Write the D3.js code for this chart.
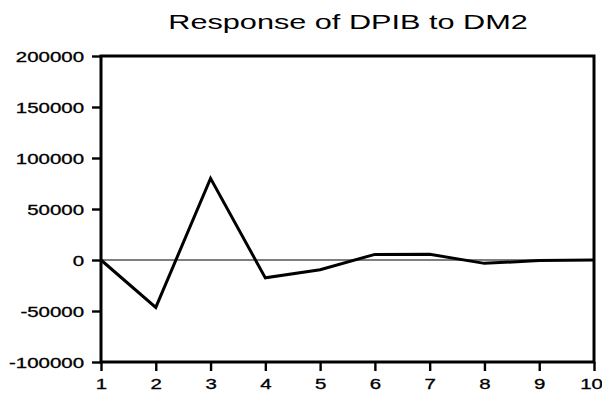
<!DOCTYPE html>
<html>
<head>
<meta charset="utf-8">
<script src="https://cdn.jsdelivr.net/npm/d3@7"></script>
<style>
  body { margin: 0; background: #fff; }
  svg { display: block; }
  text { font-family: "Liberation Sans", Arial, sans-serif; fill: #000; }
</style>
</head>
<body>
<svg width="602" height="394"></svg>
<script>
var svg = d3.select("svg");

// data
var periods = [1, 2, 3, 4, 5, 6, 7, 8, 9, 10];
var response = [0, -46500, 80000, -17500, -9500, 5500, 5600, -3300, -500, 0];
var yTicks = [-100000, -50000, 0, 50000, 100000, 150000, 200000];
var title = "Response of DPIB to DM2";

// the original picture is stretched sideways, so text gets squeezed the same way
var stretch = 1.46;

var x = d3.scaleLinear().domain([1, 10]).range([101, 594]);
var y = d3.scaleLinear().domain([-100000, 200000]).range([362, 56]);

// plain hyphen for negatives, like the original
function fmt(d) { return String(d); }

// title
svg.append("text")
    .attr("transform", "translate(348,29) scale(" + stretch + ",1)")
    .attr("text-anchor", "middle")
    .style("font-size", "21px")
    .text(title);

// zero line
svg.append("line")
    .attr("x1", x(1)).attr("x2", x(10))
    .attr("y1", y(0)).attr("y2", y(0))
    .attr("stroke", "#000")
    .attr("stroke-width", 1.2);

// response line
var line = d3.line()
    .x(function(d, i) { return x(periods[i]); })
    .y(function(d) { return y(d); });

svg.append("path")
    .datum(response)
    .attr("d", line)
    .attr("fill", "none")
    .attr("stroke", "#000")
    .attr("stroke-width", 3)
    .attr("stroke-linejoin", "miter");

// axes
var yAxis = svg.append("g")
    .attr("transform", "translate(" + x(1) + ",0)")
    .call(d3.axisLeft(y).tickValues(yTicks).tickFormat(fmt)
        .tickSize(9).tickSizeOuter(0).tickPadding(0));

var xAxis = svg.append("g")
    .attr("transform", "translate(0," + y(-100000) + ")")
    .call(d3.axisBottom(x).tickValues(periods).tickFormat(fmt)
        .tickSize(9).tickSizeOuter(0).tickPadding(0));

[yAxis, xAxis].forEach(function(a) {
    a.select(".domain").remove();
    a.selectAll(".tick line").attr("stroke", "#000").attr("stroke-width", 2.4);
});

yAxis.selectAll(".tick text")
    .attr("x", 0).attr("dy", "0.36em")
    .attr("transform", "translate(-17,0) scale(" + stretch + ",1)")
    .style("font-size", "14px")
    .attr("stroke", "#000").attr("stroke-width", 0.3);

xAxis.selectAll(".tick text")
    .attr("y", 0).attr("dy", "0")
    .attr("transform", function(d) {
        // last label sits against the right edge
        var dx = d === 10 ? -3 : 0;
        return "translate(" + dx + ",27) scale(" + stretch + ",1)";
    })
    .style("font-size", "14px")
    .attr("stroke", "#000").attr("stroke-width", 0.3);

// frame
svg.append("rect")
    .attr("x", x(1)).attr("y", y(200000))
    .attr("width", x(10) - x(1))
    .attr("height", y(-100000) - y(200000))
    .attr("fill", "none")
    .attr("stroke", "#000")
    .attr("stroke-width", 3);
</script>
</body>
</html>
